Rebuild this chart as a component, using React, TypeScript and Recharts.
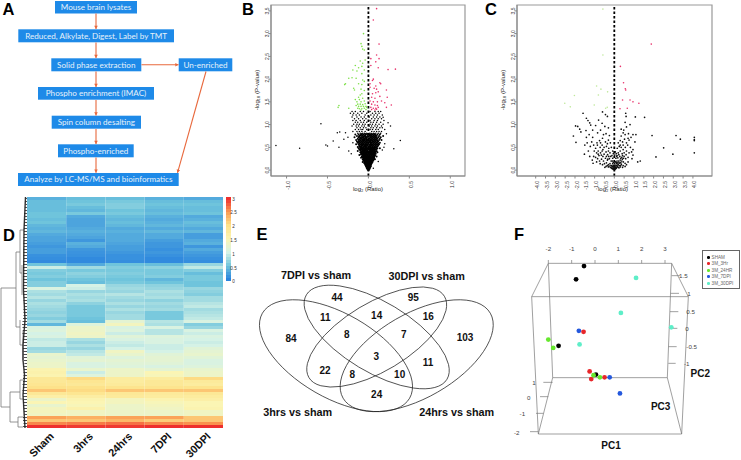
import React from 'react';
import { ScatterChart, Scatter, XAxis, YAxis, BarChart, Bar, Cell, ReferenceLine, ReferenceArea, Legend } from 'recharts';

// ---------- Panel A: flow chart ----------
const flowLabels = ['Mouse brain lysates', 'Reduced, Alkylate, Digest, Label by TMT', 'Solid phase extraction', 'Un-enriched', 'Phospho enrichment (IMAC)', 'Spin column desalting', 'Phospho-enriched', 'Analyze by LC-MS/MS and bioinformatics'];
const flowBoxes = [[55, 1, 82, 12.5], [18.3, 29.3, 155.7, 13], [51.3, 58.3, 90, 13], [178.7, 58.3, 53.6, 13], [38, 87, 116, 12.7], [51.7, 115.7, 89.3, 13], [58, 144.3, 75.7, 13], [18, 173, 160.7, 13]];
const flowArrows = [[96, 13.5, 96, 29], [96, 42.5, 96, 58], [96, 71.5, 96, 87], [96, 100, 96, 115.5], [96, 129, 96, 144], [96, 157.5, 96, 172.8], [141.5, 64.8, 178.5, 64.8], [206, 71.5, 177.5, 172.8]];

// ---------- Panel B: volcano ----------
const bTicksX = [-1, -0.5, 0, 0.5, 1];
const bTicksY = [0, 0.5, 1, 1.5, 2, 2.5, 3, 3.5];
const bGreen = [-.06,3.0,-.09,2.78,-.08,2.72,-.07,2.66,-.05,2.64,-.1,2.4,-.07,2.35,-.04,2.42,-.16,2.3,-.12,2.25,-.08,2.28,-.19,2.2,-.14,2.18,-.05,2.2,-.08,2.12,-.2,2.03,-.15,2.02,-.24,2.02,-.07,1.98,-.05,1.95,-.28,1.9,-.29,1.88,-.12,1.9,-.08,1.88,-.18,1.8,-.17,1.76,-.09,1.78,-.05,1.75,-.1,1.65,-.08,1.68,-.12,1.6,-.07,1.58,-.16,1.55,-.11,1.55,-.14,1.5,-.09,1.5,-.05,1.52,-.13,1.45,-.1,1.45,-.07,1.44,-.04,1.46,-.15,1.42,-.12,1.4,-.09,1.4,-.06,1.4,-.03,1.4,-.36,1.42,-.37,1.38,-.24,1.36,-.13,1.36,-.11,1.35,-.08,1.35,-.05,1.36,-.03,1.33,-.02,1.38,-.09,1.32];
const bRed = [.1,3.55,.06,3.3,.13,2.77,.1,2.53,.13,2.45,.03,2.45,.09,2.38,.03,2.3,.12,2.25,.24,2.21,.33,2.22,.06,2.0,.05,1.97,.02,1.9,.09,1.85,.14,1.92,.15,1.9,.07,1.8,.02,1.82,.1,1.78,.12,1.72,.22,1.76,.05,1.68,.09,1.7,.14,1.62,.04,1.6,.08,1.58,.23,1.6,.02,1.52,.06,1.5,.11,1.5,.16,1.52,.2,1.48,.04,1.45,.08,1.43,.11,1.42,.28,1.43,.22,1.38,.03,1.38,.06,1.36,.09,1.36,.12,1.38,.04,1.33,.08,1.32,.1,1.34];
const bOutliers = [-1.13,.54,-.84,.48,-.58,1.02,-.52,.55,-.5,.53,-.43,.64,-.38,.82,-.35,.84,-.36,.5,-.3,.68,-.28,.82,-.25,.72,-.24,.42,-.21,.36,-.19,.6,.39,.65,.31,.47,.27,.97,.24,1.04,.2,.58,.19,.5,.17,.44,.22,.8,.18,1.16,.12,.19,.06,.04];
const bRows: [number, number[]][] = [
[1.29,[-.2,-.16,-.1,-.06,.02,.08,.12,.15]],[1.25,[-.22,-.18,-.13,-.08,-.02,.05,.09,.13]],[1.21,[-.19,-.15,-.11,-.04,.03,.07,.11,.17]],[1.17,[-.2,-.14,-.09,-.05,.01,.06,.1,.14]],[1.13,[-.17,-.12,-.07,-.03,.04,.08,.12,.16]],[1.09,[-.19,-.15,-.1,-.05,.02,.07,.11,.19]],
[1.05,[-.16,-.13,-.09,-.06,-.02,.03,.06,.1,.15]],[1.01,[-.18,-.14,-.11,-.07,-.04,.02,.05,.09,.13,.18]],[.97,[-.2,-.15,-.12,-.08,-.05,.01,.04,.08,.11,.16]],[.93,[-.14,-.1,-.06,-.03,.03,.06,.1,.14,.17]],[.89,[-.16,-.12,-.09,-.07,-.02,.02,.05,.09,.12,.2]],[.85,[-.19,-.14,-.11,-.08,-.04,.04,.07,.1,.13,.16]],
[.81,[-.13,-.1,-.07,-.05,-.02,.01,.03,.06,.09,.12,.15]],[.78,[-.16,-.12,-.09,-.06,-.03,.02,.05,.08,.11,.14]],[.75,[-.14,-.11,-.08,-.05,-.01,.04,.07,.1,.13,.18]],[.72,[-.17,-.12,-.09,-.07,-.04,-.02,.03,.06,.09,.12,.15]],[.69,[-.13,-.1,-.08,-.05,-.03,.01,.05,.08,.11,.14]],[.66,[-.15,-.12,-.09,-.06,-.04,-.01,.02,.04,.07,.1,.13,.16]],
[.63,[-.14,-.11,-.08,-.06,-.03,.01,.03,.06,.09,.12]],[.6,[-.13,-.1,-.07,-.05,-.02,.02,.04,.07,.1,.14]],[.57,[-.15,-.12,-.09,-.06,-.04,-.01,.03,.05,.08,.11,.13]],[.54,[-.11,-.08,-.07,-.05,-.03,-.01,.02,.04,.06,.09,.12]],[.51,[-.13,-.1,-.08,-.06,-.04,-.02,.01,.03,.05,.07,.1]],[.48,[-.12,-.09,-.07,-.05,-.03,-.01,.02,.04,.06,.08,.11,.14]],
[.45,[-.11,-.09,-.07,-.05,-.04,-.02,0,.01,.03,.05,.07,.09]],[.42,[-.13,-.08,-.06,-.05,-.03,-.01,.02,.04,.05,.07,.1]],[.39,[-.1,-.08,-.06,-.04,-.03,-.01,.01,.03,.04,.06,.08,.11]],[.36,[-.09,-.07,-.05,-.04,-.02,0,.02,.03,.05,.07,.09]],[.33,[-.11,-.07,-.06,-.04,-.03,-.01,.01,.02,.04,.06,.08]],[.3,[-.08,-.06,-.05,-.03,-.02,0,.02,.03,.05,.07,.1]],
[.27,[-.09,-.06,-.05,-.03,-.02,-.01,.01,.02,.04,.05,.07]],[.24,[-.07,-.05,-.04,-.03,-.01,.01,.02,.03,.04,.06,.08]],[.21,[-.06,-.05,-.03,-.02,-.01,.01,.02,.03,.05,.06]],[.18,[-.07,-.04,-.03,-.02,-.01,0,.01,.02,.03,.05]],[.15,[-.05,-.03,-.02,-.01,0,.01,.02,.03,.04]],[.12,[-.04,-.03,-.02,-.01,0,.01,.02,.03]],
[.09,[-.03,-.02,-.01,0,.01,.02,.03]],[.06,[-.02,-.01,0,.01,.02]],[.03,[-.015,-.005,.005,.015]],[.01,[-.008,0,.008]],
[.795,[-.08,-.04,-.01,.04,.07]],[.765,[-.1,-.07,-.04,.01,.03,.06,.09]],[.735,[-.11,-.06,-.03,0,.02,.05,.08]],[.705,[-.1,-.06,-.02,.02,.04,.07,.1]],[.675,[-.11,-.07,-.05,-.02,.03,.06,.09]],[.645,[-.1,-.07,-.05,-.02,0,.02,.05,.08,.11]],[.615,[-.12,-.09,-.04,-.01,.02,.05,.08,.11]],[.585,[-.11,-.08,-.06,-.03,0,.03,.06,.09,.12]],[.555,[-.1,-.07,-.04,-.02,.01,.04,.07,.1]],[.525,[-.11,-.09,-.05,-.03,0,.02,.05,.08,.11]],[.495,[-.1,-.08,-.06,-.03,0,.03,.05,.07,.09]],[.465,[-.1,-.08,-.06,-.04,-.02,.01,.03,.05,.07,.1]],[.435,[-.1,-.07,-.05,-.03,-.01,.02,.04,.06,.08]],[.405,[-.09,-.07,-.05,-.02,.01,.03,.05,.07,.09]],[.375,[-.08,-.06,-.04,-.02,0,.02,.04,.06,.08]],[.345,[-.09,-.06,-.05,-.03,-.01,.01,.03,.05,.07]],[.315,[-.07,-.05,-.03,-.01,.01,.04,.06,.08]],[.285,[-.07,-.05,-.04,-.02,0,.02,.03,.05,.06]],[.255,[-.06,-.04,-.02,0,.02,.04,.05,.07]],[.225,[-.06,-.04,-.02,0,.02,.04,.05]],[.195,[-.05,-.03,-.01,.01,.03,.04]],[.165,[-.05,-.03,-.015,.005,.025,.04]],[.135,[-.035,-.015,.005,.025,.035]],[.105,[-.03,-.015,.005,.02]],[.075,[-.025,-.005,.015,.025]],[.045,[-.02,0,.015]]];

// ---------- Panel C: volcano ----------
const cTicksX = [-4,-3.5,-3,-2.5,-2,-1.5,-1,-.5,0,.5,1,1.5,2,2.5,3,3.5,4];
const cGreen = [-.58,3.54,-.58,2.53,-2.52,1.47,-2.03,1.64,-2.24,1.39,-.9,1.85,-.68,1.78,-.81,1.65,-.34,1.72,-1.02,1.43,-.44,1.36,-.36,1.38];
const cRed = [1.88,2.77,.31,2.28,.47,1.92,.56,1.79,.58,1.76,.42,1.54,.8,1.54,.95,1.5,1.25,1.47,.29,1.35,.66,1.36];
const cBlack = [1.54,1.16,1.07,1.17,1.92,.76,3.14,.76,3.36,.68,4.07,.72,4.07,.67,4.07,.65,4.07,.38,2.51,.49,2.12,.29,2.98,.35,1.32,.2,1.19,.18,-1.59,1.25,-1.42,1.14,-1.34,1.09,-1.25,1.04,-1.2,.99,-1.97,.97,-1.86,.96,-1.76,.9,-1.7,.84,-2.08,.75,-1.95,.61,-1.44,.87,
-.6,1.28,-.45,1.22,-.35,1.18,-.8,1.1,-.62,1.03,-.48,.96,-.3,.93,-.95,.98,-1.1,.88,-1.28,.78,-1.42,.72,-1.1,.72,-.85,.82,-.7,.88,-.55,.78,-.42,.8,-.25,.76,
-1.5,.55,-1.38,.6,-1.22,.52,-1.32,.42,-1.52,.35,-1.15,.62,-1.05,.55,-.95,.48,-.88,.6,-.75,.65,-.6,.7,-.45,.62,-.3,.66,-.2,.6,-1.02,.42,-.9,.38,-.82,.42,-.72,.5,-.62,.55,-.52,.5,-.4,.52,-.28,.48,-.15,.5,
-1.25,.3,-1.12,.22,-1.05,.3,-.95,.28,-.85,.25,-.78,.32,-.7,.38,-.62,.42,-.52,.35,-.42,.4,-.34,.34,-.22,.38,-.12,.32,-1.08,.15,-.9,.18,-.75,.2,-.65,.24,-.55,.2,-.45,.26,-.35,.22,-.25,.25,-.16,.2,-.08,.26,
-.6,.12,-.5,.14,-.4,.16,-.3,.12,-.22,.14,-.14,.1,-.08,.14,-.42,.08,-.3,.07,-.2,.06,-.12,.06,-.06,.09,-.03,.05,0,.03,-.02,.02,.02,.02,.01,.05,.03,.08,.06,.06,-.1,.03,.1,.04,.15,.08,.2,.06,.25,.1,.3,.07,.1,.1,
.12,.14,.2,.13,.28,.15,.36,.13,.45,.1,.55,.08,.62,.12,.06,.18,.14,.2,.22,.2,.3,.22,.38,.2,.46,.18,.55,.15,.7,.18,.08,.26,.18,.27,.28,.3,.38,.28,.47,.26,.58,.25,.7,.28,.9,.25,
.1,.36,.2,.38,.3,.42,.4,.36,.5,.38,.62,.42,.75,.38,.88,.4,.95,.33,.15,.48,.25,.52,.35,.5,.45,.55,.56,.5,.68,.55,.82,.5,.95,.45,.2,.6,.3,.65,.42,.62,.52,.68,.62,.6,.75,.66,1.05,.62,1.1,.78,
.35,.75,.45,.82,.55,.78,.72,.8,.95,.78,.35,.9,.48,.88,.62,.95,.8,1.0,.55,1.05,.6,1.18,.58,1.25,.7,.7,.85,.72,-.08,.42,.05,.4,.02,.33,-.05,.36,.14,.32,
-.48,.06,-.36,.1,-.26,.09,-.17,.1,-.1,.08,-.04,.1,.04,.11,.07,.03,.13,.06,.18,.11,.24,.05,.33,.1,.42,.06,-.14,.04,-.07,.03,-.04,.015,.03,.015,-.01,.07,.01,.09,-.33,.24,-.28,.3,-.18,.3,-.1,.2,-.05,.17,.02,.15,.1,.17,.17,.16,.24,.17,.33,.17,.41,.24,.5,.3,.12,.3,.23,.34,.33,.26,-.58,.3,-.66,.33,-.72,.14,-.82,.35,-.3,.42,-.4,.3,.42,.32,-.86,.55,-.7,.6,-.58,.45,-.35,.58,.3,.55,.45,.45,.6,.34];

// ---------- Panel D: heat map ----------
const heatColumns = ['Sham', '3hrs', '24hrs', '7DPI', '30DPI'];
const colorStops = [[0,'#2a84de'],[.5,'#6fc4dc'],[1,'#d5f2e6'],[1.5,'#fbf5b4'],[2,'#fde28a'],[2.5,'#fb9c52'],[3,'#ee2f2e']] as [number,string][];
const heatRows = [
[.35,.45,.45,.35,.3],[.45,.5,.55,.45,.45],[.45,.55,.6,.5,.5],[.45,.45,.6,.45,.45],[.45,.4,.5,.4,.45],[.5,.55,.55,.45,.5],[.5,.3,.45,.35,.3],[.45,.25,.4,.3,.35],[.5,.25,.45,.35,.45],[.4,.25,.4,.4,.4],[.35,.3,.3,.3,.3],[.4,.35,.35,.4,.4],[.3,.3,.3,.3,.2],[.25,.25,.3,.3,.2],[.25,.15,.3,.2,.3],[.2,.35,.25,.15,.35],[.15,.3,.2,.15,.15],[.2,.15,.2,.1,.3],[.2,.12,.15,.15,.2],[.1,.1,.1,.1,.15],[.08,.05,.1,.05,.1],[.05,.05,.08,.05,.08],
[.5,.3,.5,.45,.7],[.95,.75,.6,.65,.9],[.6,.55,.55,.55,.6],[.55,.65,.6,.55,.45],[.6,.6,.55,.6,.55],[.5,.5,.5,.4,.55],[.6,.45,.55,.5,.5],[.6,1,.7,.65,.5],[1.05,.95,.75,.7,.7],[.8,.7,.7,.8,.65],[.75,.8,.85,.75,.6],[.85,.75,.75,.8,.75],[.7,.8,.7,.65,.75],[.8,.65,.8,.75,.85],[.75,.55,.7,.7,.9],[.7,.55,.8,.75,.75],[.65,.55,.7,.55,.8],[.7,.55,.75,.55,.85],[.6,.5,.75,.55,.9],[.75,.45,1.2,.85,1.05],
[.4,1.1,1.4,.8,.6],[1.05,1.3,1.05,1.05,.7],[1.1,1.3,1.1,.85,1.05],[1,1.35,.95,.85,.95],[1.05,1.3,1.15,1.1,1.05],[.9,.8,1.05,1.05,1],[.95,.7,.95,1.05,.95],[.95,.8,.9,.95,1],[.7,.7,1,.95,1.15],[.75,.85,1.35,1,1.2],[1.25,.9,1.25,1.15,1.25],[1.2,1.15,1.1,1.2,1.15],[1.25,1.2,1.2,1.2,1.05],[1.3,1.05,1.15,1.15,1.05],[1.3,1.05,1.1,1.05,1.1],[1.55,1.25,1.3,1.2,1.25],[1.6,.95,1.3,1.5,1.3],[1.55,1.1,1.3,1.45,1.3],
[1.85,2.05,1.75,1.75,2.05],[1.85,1.9,1.75,1.85,1.8],[1.9,1.85,1.8,1.85,1.75],[2,2,1.95,1.95,1.95],[2.2,2.05,2.2,2.2,2.2],[1.85,1.9,1.85,1.8,1.85],[1.65,1.7,1.8,1.75,1.75],[1.3,1.55,1.4,1.55,1.65],[1.5,1.5,1.4,1.45,1.5],[1.25,1.45,1.3,1.4,1.5],[1.4,1.6,1.3,1.35,1.55],[1.4,1.35,1.3,1.3,1.35],[1.35,1.35,1.3,1.3,1.35],[2.45,2.35,2.45,2.45,2.2],[2.2,2.2,2.3,2.15,2.2],[2.6,2.65,2.7,2.6,2.55],[3,2.95,2.95,3,3]];
const colorbarLevels = [3,2.89,2.78,2.67,2.56,2.44,2.33,2.22,2.11,2,1.89,1.78,1.67,1.56,1.44,1.33,1.22,1.11,1,.89,.78,.67,.56,.44,.33,.22,.11,0];
const colorbarLabels = ['3','2.5','2','1.5','1','0.5','0'];
const dendroTree = [[1,288,1,407],[1,288,16,288],[1,407,10,407],[16,252,16,327],[16,252,20,252],[20,230,20,273],[20,230,24,230],[20,273,22,273],[22,265,22,295],[16,327,20,327],[20,320,20,345],[20,345,23,345],[23,330,23,360],[10,392,10,422],[10,392,20,392],[20,380,20,399],[20,380,23,380],[20,399,23,399],[10,422,18,422],[18,417,18,427],[18,417,23,417],[18,427,23,427]];
const dendroDark = [[25.5,197,24,230],[24,230,23.5,290],[23.5,290,25,320],[25,320,23,345],[23,345,23,360],[23,360,24.5,375],[24.5,375,23,395],[23,395,25,428]];
const leafStart = [26,25.5,25.5,25,25,24.5,25,24.5,24.5,24,24,24,24,23.5,24,23.5,24,23.5,23.5,23.5,24,23.5,23,23,23.5,23,23,23,23.5,23,23.5,24,23.5,24,23.5,24,24,23.5,23.5,23.5,23,22.5,22,22.5,23,22.5,23,23,23,23.5,23,23.5,23.5,24,24,24.5,24,24,23.5,23.5,23,23,22.5,23,22.5,23,23,23.5,23,23.5,24,24,24.5,23,23,23.5,23];

// ---------- Panel E: Venn ----------
const vennSets = ['7DPI vs sham', '30DPI vs sham', '3hrs vs sham', '24hrs vs sham'];
const vennSetPos = [[198,225],[530,228],[143,637],[620,637]];
const vennCounts = ['44','95','11','14','16','84','8','7','103','3','11','22','8','10','24'];
const vennCountPos = [[261,293],[490,293],[226,352],[380,345],[535,350],[123,414],[290,402],[461,402],[645,413],[379,470],[534,486],[225,510],[307,522],[449,522],[380,582]];
const vennEllipses = [[336,355.7,85,42,30],[416.7,355.7,85,42,-30],[376.7,337,82,35,31],[376.7,337,79,34,-31]];

// ---------- Panel F: PCA ----------
const pcaSeries = [
  { name: 'SHAM', color: '#000000', u: [-.47,-.81,-1.56,.04], v: [1.78,1.40,-.50,-1.32] },
  { name: '3M_3Hr', color: '#e8262a', u: [-.49,-.23,-.16,.41], v: [-.10,-1.23,-1.45,-1.40] },
  { name: '3M_24HR', color: '#66e82e', u: [-2.0,-1.79,-.06,.21], v: [-.32,-.56,-1.34,-1.40] },
  { name: '3M_7DPI', color: '#2458dd', u: [-.69,.63,1.07], v: [-.07,-1.40,-1.86] },
  { name: '3M_30DPI', color: '#5eeec8', u: [1.76,1.11,-.66,3.27], v: [1.44,.44,-.46,.03] },
];
const wire = [[145,160,515,160],[145,160,95,260],[515,160,565,260],[95,260,565,260],[95,260,115,672],[565,260,545,672],[115,672,545,672],[115,672,158,503],[545,672,502,503],[158,503,502,503],[145,160,158,503],[515,160,502,503],
[145,150,145,160],[215,150,215,160],[285,150,285,160],[355,150,355,160],[425,150,425,160],[495,150,495,160],
[515,197,540,197],[512,250,537,250],[510,305,535,305],[508,355,532,355],[506,410,530,410],[505,460,527,460],
[158,517,130,517],[145,560,120,560],[130,610,108,610],[115,665,90,665]];
const fTickLabels = ['-2','-1','0','1','2','3','1.5','1','0.5','0','-0.5','-1','1','0','-1','-2'];
const fTickPos = [[145,115],[215,115],[285,115],[355,115],[425,115],[495,115],[550,197],[567,250],[572,305],[561,357],[575,410],[560,460],[102,518],[86,563],[67,612],[50,667]];
const fTitles = ['PC2','PC3','PC1'];
const fTitlePos = [[601,491],[482,589],[333,705]];

const panelLetters = ['A','B','C','D','E','F'];
const panelLetterPos = [[8.5,15],[248,15],[491,15],[9,241],[262,240],[519,240]];
const ratioLabel = 'log₂ (Ratio)';
const pValueLabel = '-log₁₀ (P-value)';
const ratioLabelPos = [[368,191],[613,191]];
const pValueLabelPos = [[259,90],[505,90]];

const ARIAL = '"Liberation Sans", Arial, sans-serif';
const pairs = (a: number[]) => { const o: any[] = []; for (let i = 0; i < a.length; i += 2) o.push({ x: a[i], y: a[i + 1] }); return o; };
const rowsToPoints = (r: [number, number[]][]) => r.flatMap(([y, xs]) => xs.map((x) => ({ x, y })));
const bCore = rowsToPoints(bRows);
const heatColor = (v: number) => {
  for (let i = 1; i < colorStops.length; i++) {
    if (v <= colorStops[i][0]) {
      const [a, ca] = colorStops[i - 1]; const [b, cb] = colorStops[i];
      const t = (v - a) / (b - a);
      const ch = (c: string, k: number) => parseInt(c.slice(1 + 2 * k, 3 + 2 * k), 16);
      return `rgb(${[0, 1, 2].map((k) => Math.round(ch(ca, k) + (ch(cb, k) - ch(ca, k)) * t)).join(',')})`;
    }
  }
  return colorStops[colorStops.length - 1][1];
};

const Dot = (r: number, fill: string) => (p: any) => <circle cx={p.cx} cy={p.cy} r={r} fill={fill} />;
const Seg = (stroke: string, sw: number) => (p: any) => (
  <line x1={p.cx} y1={p.cy} x2={p.cx + p.payload.dx} y2={p.cy + p.payload.dy} stroke={stroke} strokeWidth={sw} />
);
const Arrow = (p: any) => {
  const { dx, dy } = p.payload; const L = Math.hypot(dx, dy); const ux = dx / L, uy = dy / L;
  const ex = p.cx + dx, ey = p.cy + dy;
  return (<g><line x1={p.cx} y1={p.cy} x2={ex} y2={ey} stroke="#e8683c" strokeWidth={1.1} />
    <polygon points={`${ex},${ey} ${ex - 3.2 * ux - 1.8 * uy},${ey - 3.2 * uy + 1.8 * ux} ${ex - 3.2 * ux + 1.8 * uy},${ey - 3.2 * uy - 1.8 * ux}`} fill="#e8683c" /></g>);
};
const FlowBox = (p: any) => (
  <g><rect x={p.cx} y={p.cy} width={p.payload.w} height={p.payload.h} fill="#1e8ae8" />
    <text x={p.cx + p.payload.w / 2} y={p.cy + p.payload.h / 2 + 2.8} textAnchor="middle" fontFamily="Lato" fontSize={8.1} fill="#e6f1fa">{p.payload.label}</text></g>
);
const Txt = (size: number, weight: string | number, fill: string, dy: number, rotate = 0) => (p: any) => (
  <text transform={`translate(${p.cx} ${p.cy + dy}) rotate(${rotate})`} textAnchor="middle" fontFamily={ARIAL} fontSize={size} fontWeight={weight} fill={fill}>{p.payload.label}</text>
);
const Ell = (p: any) => (
  <ellipse cx={p.cx} cy={p.cy} rx={p.payload.rx} ry={p.payload.ry} transform={`rotate(${p.payload.rot} ${p.cx} ${p.cy})`} fill="none" stroke="#222" strokeWidth={0.7} />
);
const zoomed = (o: number, s = 3) => (v: number) => o + v / s;
const segRows = (list: number[][], fx = (v: number) => v, fy = (v: number) => v) => list.map(([a, b, c, d]) => ({ x: fx(a), y: fy(b), dx: fx(c) - fx(a), dy: fy(d) - fy(b) }));
const textRows = (labels: string[], pos: number[][], fx: (v: number) => number, fy: (v: number) => number) => labels.map((label, i) => ({ label, x: fx(pos[i][0]), y: fy(pos[i][1]) }));

const eX = zoomed(250), eY = zoomed(200), fX = zoomed(500), fY = zoomed(210), same = (v: number) => v;

const Canvas = () => (
  <ScatterChart width={741} height={460} margin={{ top: 0, right: 0, bottom: 0, left: 0 }}>
    <XAxis type="number" dataKey="x" domain={[0, 741]} hide />
    <YAxis type="number" dataKey="y" domain={[0, 460]} reversed hide />
    <Scatter isAnimationActive={false} data={flowLabels.map((label, i) => ({ label, x: flowBoxes[i][0], y: flowBoxes[i][1], w: flowBoxes[i][2], h: flowBoxes[i][3] }))} shape={FlowBox} />
    <Scatter isAnimationActive={false} data={segRows(flowArrows)} shape={Arrow} />
    <Scatter isAnimationActive={false} data={textRows(panelLetters, panelLetterPos, same, same)} shape={Txt(16.5, 700, '#000', 0) as any} />
    <Scatter isAnimationActive={false} data={textRows(ratioLabelPos.map(() => ratioLabel), ratioLabelPos, same, same)} shape={Txt(6, 400, '#222', 0) as any} />
    <Scatter isAnimationActive={false} data={textRows(pValueLabelPos.map(() => pValueLabel), pValueLabelPos, same, same)} shape={Txt(6, 400, '#222', 0, -90) as any} />
    <Scatter isAnimationActive={false} data={segRows(dendroTree)} shape={Seg('#7a7a7a', 0.8) as any} />
    <Scatter isAnimationActive={false} data={segRows(dendroDark)} shape={Seg('#333', 1.4) as any} />
    <Scatter isAnimationActive={false} data={leafStart.map((s, i) => ({ x: s, y: 198.5 + i * 3, dx: 27 - s, dy: 0 }))} shape={Seg('#222', 0.8) as any} />
    <Scatter isAnimationActive={false} data={textRows(colorbarLabels, colorbarLabels.map((_, i) => [233.5, 199 + i * 13.8]), same, same)} shape={Txt(4.6, 400, '#333', 1.6) as any} />
    <Scatter isAnimationActive={false} data={vennEllipses.map(([x, y, rx, ry, rot]) => ({ x, y, rx, ry, rot }))} shape={Ell} />
    <Scatter isAnimationActive={false} data={textRows(vennSets, vennSetPos, eX, eY)} shape={Txt(10.8, 700, '#111', 3.5) as any} />
    <Scatter isAnimationActive={false} data={textRows(vennCounts, vennCountPos, eX, eY)} shape={Txt(10, 700, '#111', 3.5) as any} />
    <Scatter isAnimationActive={false} data={segRows(wire, fX, fY)} shape={Seg('#777', 0.7) as any} />
    <Scatter isAnimationActive={false} data={textRows(fTickLabels, fTickPos, fX, fY)} shape={Txt(6.2, 400, '#444', 2.2) as any} />
    <Scatter isAnimationActive={false} data={textRows(fTitles, fTitlePos, fX, fY)} shape={Txt(10, 700, '#111', 3.5) as any} />
  </ScatterChart>
);

const Volcano = ({ left, width, yw, mr, xDomain, ticksX, series }: any) => (
  <div style={{ position: 'absolute', left, top: 0 }}>
    <ScatterChart width={width} height={195} margin={{ top: 5, right: mr, bottom: 5, left: 6 }}>
      <XAxis type="number" dataKey="x" domain={xDomain} ticks={ticksX} allowDataOverflow interval={0} height={14}
        tickFormatter={(v: number) => v.toFixed(1)} angle={-90} textAnchor="end" tickSize={2.5} tickMargin={1}
        tick={{ fontSize: 5, fill: '#333', fontFamily: ARIAL, dy: 1.5 } as any} stroke="#888" />
      <YAxis type="number" dataKey="y" domain={[-0.13, 3.63]} ticks={bTicksY} allowDataOverflow interval={0} width={yw}
        tickFormatter={(v: number) => v.toFixed(1)} angle={-90} textAnchor="middle" tickSize={2.5} tickMargin={1}
        tick={{ fontSize: 5, fill: '#333', fontFamily: ARIAL } as any} stroke="#888" />
      <ReferenceArea x1={xDomain[0]} x2={xDomain[1]} y1={-0.13} y2={3.63} fill="none" stroke="#999" strokeWidth={1.2} />
      {series.map((s: any, i: number) => <Scatter key={i} isAnimationActive={false} data={s.data} fill={s.color} shape={Dot(s.r, s.color) as any} />)}
      <ReferenceLine x={0} stroke="#000" strokeWidth={1.8} strokeDasharray="2.5 2" />
    </ScatterChart>
  </div>
);

const heatTable = heatRows.map((r, i) => ({ row: i, c0: 1, c1: 1, c2: 1, c3: 1, c4: 1 }));
const HeatTick = (p: any) => (
  <text transform={`translate(${p.x + 8} ${p.y + 1}) rotate(-45)`} textAnchor="end" fontFamily={ARIAL} fontWeight={700} fontSize={10.8} fill="#111">{heatColumns[Math.floor(p.payload.value)]}</text>
);
const Heatmap = () => (
  <div style={{ position: 'absolute', left: 0, top: 197 }}>
    <BarChart layout="vertical" width={223} height={263} data={heatTable} barCategoryGap={0} margin={{ top: 0, right: 0, bottom: 0, left: 27 }}>
      <XAxis type="number" domain={[0, 5]} ticks={[0.5, 1.5, 2.5, 3.5, 4.5]} interval={0} axisLine={false} tickLine={false} tick={HeatTick} height={32} />
      <YAxis type="category" dataKey="row" hide />
      {heatColumns.map((_, c) => (
        <Bar key={c} dataKey={`c${c}`} stackId="h" isAnimationActive={false}>
          {heatRows.map((r, i) => <Cell key={i} fill={heatColor(r[c])} />)}
        </Bar>
      ))}
    </BarChart>
  </div>
);
const Colorbar = () => (
  <div style={{ position: 'absolute', left: 225.7, top: 197 }}>
    <BarChart layout="vertical" width={5} height={84} data={colorbarLevels.map((v) => ({ v, w: 1 }))} barCategoryGap={0} margin={{ top: 0, right: 0, bottom: 0, left: 0 }}>
      <XAxis type="number" domain={[0, 1]} hide />
      <YAxis type="category" dataKey="v" hide />
      <Bar dataKey="w" isAnimationActive={false}>
        {colorbarLevels.map((v, i) => <Cell key={i} fill={heatColor(v)} />)}
      </Bar>
    </BarChart>
  </div>
);

const PcaLegend = () => (
  <div style={{ width: 38, height: 39, border: '1px solid #666', background: '#fff', boxSizing: 'border-box', paddingTop: 3.5, paddingLeft: 4 }}>
    {pcaSeries.map((s) => (
      <div key={s.name} style={{ height: 6.5, lineHeight: '6.5px', fontSize: 4.6, fontFamily: ARIAL, color: '#666', whiteSpace: 'nowrap' }}>
        <span style={{ display: 'inline-block', width: 2.6, height: 2.6, borderRadius: '50%', background: s.color, marginRight: 2, verticalAlign: 'middle' }} />{s.name}
      </div>
    ))}
  </div>
);
const Pca = () => (
  <div style={{ position: 'absolute', left: 500, top: 210 }}>
    <ScatterChart width={241} height={250} margin={{ top: 0, right: 0, bottom: 0, left: 0 }}>
      <XAxis type="number" dataKey="x" domain={[-4.07, 6.257]} hide />
      <YAxis type="number" dataKey="y" domain={[-3.762, 3.381]} hide />
      {pcaSeries.map((s) => (
        <Scatter key={s.name} name={s.name} isAnimationActive={false} fill={s.color} shape={Dot(2.4, s.color) as any} data={s.u.map((x, i) => ({ x, y: s.v[i] }))} />
      ))}
      <Legend layout="vertical" align="center" verticalAlign="middle" content={() => <PcaLegend />} wrapperStyle={{ left: 202, top: 40, width: 38, height: 39 }} />
    </ScatterChart>
  </div>
);

export default function App() {
  return (
    <div style={{ position: 'absolute', left: 0, top: 0, width: 741, height: 460, background: '#fff', overflow: 'hidden' }}>
      <Heatmap />
      <Colorbar />
      <div style={{ position: 'absolute', left: 0, top: 0 }}><Canvas /></div>
      <Volcano left={235} width={240} yw={30} mr={10} xDomain={[-1.19, 1.18]} ticksX={bTicksX}
        series={[{ data: bCore.filter((p) => p.y < 0.8), color: '#000', r: 1 }, { data: bCore.filter((p) => p.y >= 0.8), color: '#000', r: 0.75 }, { data: pairs(bOutliers), color: '#000', r: 0.75 }, { data: pairs(bGreen), color: '#7fe04a', r: 0.8 }, { data: pairs(bRed), color: '#e8316a', r: 0.8 }]} />
      <Volcano left={490} width={235} yw={21} mr={13} xDomain={[-4.95, 4.97]} ticksX={cTicksX}
        series={[{ data: pairs(cBlack), color: '#111', r: 0.85 }, { data: pairs(cGreen), color: '#bfe89a', r: 0.8 }, { data: pairs(cRed), color: '#e8316a', r: 0.8 }]} />
      <Pca />
    </div>
  );
}
